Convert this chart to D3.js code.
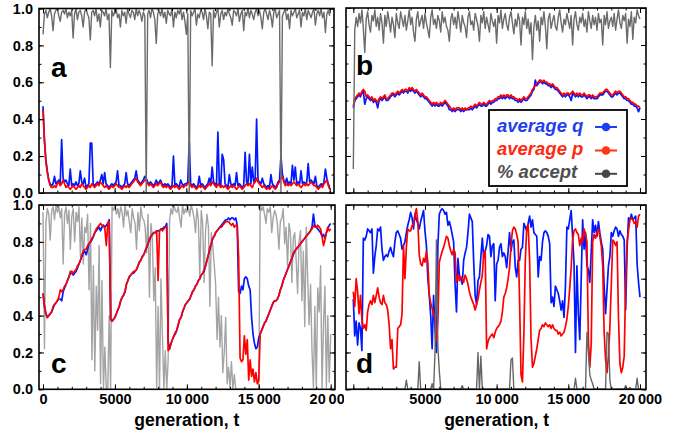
<!DOCTYPE html>
<html><head><meta charset="utf-8">
<script src="https://cdn.jsdelivr.net/npm/d3@7"></script>
<style>body{margin:0;background:#fff}svg{display:block}</style>
</head><body><svg id="chart" width="682" height="436"></svg>
<script>
// generations between samples
const step = 100;
// values are in percent (0..100)
const aQ = [47,29,18,12,7,5,4,5,9,5,
6,7,5,29,8,6,7,5,4,13,
4,5,4,6,4,5,12,6,5,8,
3,4,5,27,27,5,4,5,6,5,
7,10,5,11,5,4,3,4,5,4,
5,6,12,4,4,3,4,5,11,5,
4,5,6,7,8,12,7,6,5,6,
7,9,8,6,5,6,5,4,5,7,
5,6,7,5,4,5,4,5,4,3,
4,20,4,5,4,3,7,5,4,5,
5,6,28,5,4,5,4,3,4,9,
4,5,4,3,4,5,8,5,14,6,
5,4,33,5,4,21,18,5,4,3,
10,5,4,5,4,11,4,5,4,3,
4,22,6,5,21,5,14,6,7,40,
7,6,5,8,5,4,3,4,3,10,
5,4,3,4,6,7,20,10,7,5,
8,5,6,5,15,7,14,5,6,5,
12,5,6,5,6,16,6,7,6,5,
9,4,3,4,5,4,6,13,8,5,
3];
const aP = [45,28,17,11,7,4,3,3,4,3,
5,6,4,5,7,5,3,4,3,2,
3,4,3,2,3,4,3,5,4,3,
2,3,4,3,5,4,3,4,5,4,
6,5,4,3,4,3,2,3,4,3,
4,5,4,3,3,2,3,4,3,4,
3,4,5,6,7,8,6,5,4,5,
6,7,7,5,4,5,4,3,4,5,
4,5,6,4,3,4,3,4,3,2,
3,4,3,4,3,2,3,4,3,4,
4,5,6,4,3,4,3,2,3,4,
3,4,3,2,3,4,5,4,6,5,
4,3,5,4,3,4,3,4,3,2,
3,4,3,4,3,2,3,4,3,2,
3,4,5,4,5,4,3,5,6,8,
6,5,4,3,4,3,2,3,2,3,
4,3,2,3,5,6,8,9,6,4,
5,4,5,4,5,6,5,4,5,4,
3,4,5,4,5,4,5,6,5,4,
4,3,2,3,4,3,5,6,7,4,
2];
const aAccept = [86,97,99,95,98,100,96,88,97,99,
100,96,93,98,99,97,100,95,98,96,
99,84,97,100,94,98,99,96,90,98,
100,97,95,83,98,99,96,100,93,97,
90,99,98,96,100,94,97,68,99,96,
98,100,95,97,90,99,96,98,92,100,
97,95,99,98,94,100,96,99,97,93,
98,96,0,97,99,95,100,98,94,81,
97,99,96,100,95,98,92,99,97,96,
100,90,98,95,99,97,100,94,98,93,
86,97,0,99,96,98,100,91,97,95,
99,98,94,100,96,89,98,97,69,99,
95,98,100,90,97,99,94,98,96,100,
97,95,91,99,98,96,100,93,97,99,
88,98,96,100,95,99,97,94,98,100,
96,99,95,89,98,100,97,94,99,96,
90,98,100,95,97,99,0,96,98,100,
94,97,89,99,96,98,100,95,97,99,
90,98,96,100,94,99,97,95,98,100,
91,97,99,96,100,95,98,87,97,99,
96];
const bQ = [46,50,51,52,53,52,54,55,48,51,
52,51,50,51,49,50,49,46,50,51,
50,51,52,50,50,51,52,53,53,52,
53,54,53,54,55,54,55,55,54,56,
55,56,55,54,55,54,53,52,53,52,
51,51,50,49,48,47,48,47,48,47,
47,48,47,48,49,48,47,45,45,44,
45,44,45,45,45,44,45,44,45,45,
45,45,46,45,46,47,46,47,48,47,
47,48,47,47,48,49,48,49,49,50,
50,51,51,52,51,52,51,52,52,51,
52,51,51,50,50,49,50,49,50,51,
50,50,51,52,53,55,56,61,58,59,
60,60,59,60,59,59,58,58,57,58,
57,56,56,55,54,53,52,53,52,53,
53,52,50,54,53,52,53,52,53,52,
52,53,52,51,52,52,51,52,51,51,
51,52,53,53,53,54,55,55,54,53,
52,52,53,54,53,54,54,53,52,51,
51,50,50,49,48,48,47,47,46,44,
46];
const bP = [47,51,52,53,54,53,55,56,55,52,
53,52,51,52,50,51,50,49,51,52,
51,52,53,51,51,52,53,54,54,53,
54,55,54,55,56,55,56,56,55,57,
56,57,56,55,56,55,54,53,54,53,
52,52,51,50,49,48,49,48,49,48,
48,49,48,49,50,49,48,47,46,45,
46,45,46,46,46,45,46,45,46,45,
46,46,47,46,47,48,47,48,49,48,
48,49,48,48,49,50,49,50,50,51,
51,52,52,53,52,53,52,53,53,52,
53,52,52,51,51,50,51,50,51,52,
51,51,52,53,54,56,57,58,59,60,
61,61,60,61,60,60,59,59,58,59,
58,57,57,56,55,54,53,54,53,54,
54,53,54,55,54,53,54,53,54,53,
53,54,53,52,53,53,52,53,52,52,
52,53,54,54,54,55,56,56,55,54,
53,53,54,55,54,55,55,54,53,52,
52,51,51,50,49,49,48,48,47,47,
46];
const bAccept = [13,88,95,90,97,92,99,89,76,94,
98,91,87,96,93,99,90,95,88,97,
92,81,96,90,98,93,87,95,91,84,
97,92,89,98,94,90,96,88,93,99,
91,95,87,82,94,98,90,93,96,89,
97,92,88,84,95,99,91,94,89,96,
93,87,98,92,95,90,88,82,94,97,
91,95,89,98,93,87,96,92,90,84,
95,98,91,93,88,97,94,90,82,96,
92,98,89,95,91,87,97,93,90,94,
81,96,92,99,89,94,97,91,88,95,
98,92,86,94,90,97,93,80,95,91,
98,89,94,86,92,72,90,96,88,93,
82,95,91,98,90,78,94,97,89,93,
96,90,88,95,99,92,87,94,91,97,
93,89,96,80,94,98,91,88,95,92,
97,90,94,87,98,93,89,96,91,95,
88,97,92,94,80,96,91,98,89,93,
95,90,97,88,94,99,92,89,96,93,
97,81,94,90,98,83,95,92,99,96,
94];
const cQ = [52,45,41,39,40,41,42,44,46,47,
48,49,49,48,53,55,57,59,61,63,
63,62,63,64,66,68,70,72,74,75,
73,76,79,80,81,83,85,86,87,88,
86,88,89,88,89,90,92,38,37,38,
39,41,43,45,48,50,51,53,57,59,
61,62,63,63,64,65,67,69,70,72,
73,75,77,79,81,83,84,85,85,86,
86,86,87,87,88,88,90,26,22,25,
27,29,30,32,35,38,39,42,44,46,
47,48,49,51,53,54,56,57,59,60,
62,63,64,67,70,73,76,79,82,83,
85,86,87,88,89,90,91,92,92,93,
92,93,93,92,93,89,53,52,56,54,
60,61,60,56,54,39,30,25,22,23,
28,30,32,34,36,37,39,41,43,45,
47,48,48,49,51,54,56,59,61,63,
65,67,69,71,73,75,76,77,78,79,
80,81,82,83,84,85,86,88,95,89,
88,87,86,85,83,84,82,85,87,89,
90];
const cP = [52,45,41,39,40,41,42,45,46,47,
48,50,54,53,54,56,57,59,61,64,
64,63,64,65,67,68,70,73,75,76,
76,78,79,80,82,83,85,87,88,89,
90,89,89,87,78,90,91,38,37,38,
39,41,43,45,48,50,51,53,57,59,
61,62,63,64,64,65,67,69,70,72,
73,75,77,79,82,83,84,85,85,86,
59,86,87,86,87,88,88,21,22,25,
27,29,31,32,35,38,39,42,44,46,
47,48,49,51,53,54,56,57,59,60,
62,63,65,67,70,73,77,79,82,83,
85,86,87,88,88,89,90,91,91,91,
90,89,90,88,89,89,72,17,15,16,
29,19,27,5,16,7,11,4,9,3,
5,30,32,34,36,37,39,41,43,45,
47,48,48,49,51,54,56,59,61,63,
65,67,69,71,74,75,76,77,78,79,
80,81,82,83,84,85,86,87,89,88,
88,89,88,87,83,78,81,85,88,86,
87];
const cAccept = [96,22,90,98,95,81,97,99,92,100,
96,99,93,98,68,95,99,90,97,76,
94,98,80,96,91,99,72,93,68,88,
85,95,54,90,16,67,10,56,32,78,
3,59,0,23,0,1,40,0,99,97,
100,95,98,93,99,96,88,100,94,97,
91,85,98,93,90,76,96,86,99,93,
92,88,74,95,50,90,83,48,66,1,
45,0,60,30,0,21,0,16,92,98,
95,100,97,96,99,93,88,100,95,98,
96,99,94,100,97,93,85,98,92,61,
97,90,58,86,95,88,45,85,78,68,
57,27,50,23,40,9,20,39,3,12,
1,15,0,8,0,0,0,0,0,0,
0,0,0,0,0,0,0,0,0,0,
0,100,97,99,95,90,98,96,99,85,
93,97,95,89,76,91,93,98,79,88,
67,90,85,58,82,85,70,52,80,86,
48,75,34,88,60,35,57,21,1,45,
0,55,42,67,0,35,56,1,40,4,
30];
const dQ = [49,29,37,24,36,33,21,82,81,83,
87,86,85,87,63,72,78,87,86,88,
76,70,72,73,72,75,77,74,72,80,
85,86,84,82,76,78,80,85,89,92,
96,93,87,95,92,90,87,91,94,97,
86,78,60,51,40,22,51,33,20,78,
95,97,98,97,95,96,89,91,88,84,
80,57,42,71,62,60,57,70,74,77,
85,95,93,91,69,51,46,59,61,72,
82,71,75,78,84,83,72,78,79,48,
68,70,77,79,72,74,72,66,75,85,
75,80,81,66,61,70,70,76,77,90,
88,86,90,94,88,92,85,84,83,61,
72,70,80,85,86,85,83,79,47,50,
45,56,54,52,48,43,48,39,56,88,
87,92,97,83,68,20,67,41,27,60,
92,76,85,67,65,58,75,92,85,89,
83,91,85,80,76,56,41,54,67,72,
85,83,86,88,87,83,86,84,83,81,
43,76,93,92,95,92,93,94,68,58,
50];
const dP = [53,45,60,53,41,51,38,33,35,32,
42,46,48,46,51,47,51,55,50,47,
46,51,47,46,43,35,22,27,11,12,
12,33,34,35,41,78,60,77,87,86,
86,89,89,95,98,91,73,68,67,71,
69,75,69,51,47,44,40,40,26,37,
69,72,75,77,80,83,82,78,75,73,
76,74,58,62,59,61,60,58,62,60,
57,53,50,48,46,43,46,49,54,58,
62,74,75,22,26,28,29,30,28,31,
33,34,35,37,42,50,52,55,60,66,
78,86,88,87,84,80,48,8,4,30,
70,88,89,70,27,12,14,18,22,27,
32,33,35,34,36,35,34,35,33,35,
33,32,32,30,31,29,30,31,34,38,
45,55,66,81,86,87,85,84,78,82,
80,87,84,80,27,12,25,80,84,82,
85,87,83,78,67,31,16,9,18,34,
57,81,80,78,80,39,14,9,12,18,
57,80,86,92,93,92,90,91,88,94,
95];
const dAccept = [0,0,0,0,0,0,0,0,0,0,
0,0,0,0,0,0,0,0,0,0,
0,0,0,0,0,0,0,0,0,0,
0,0,0,0,0,0,0,5,0,0,
0,0,0,0,0,0,15,0,0,0,
0,0,0,0,0,3,0,20,81,23,
10,0,0,0,0,0,0,0,0,0,
0,0,0,0,0,0,2,0,0,0,
0,0,0,0,0,0,0,20,0,18,
0,0,0,0,0,0,0,0,0,0,
0,0,0,0,0,0,0,0,0,0,
16,17,0,0,0,0,0,0,0,0,
0,0,0,0,0,0,0,0,0,0,
0,0,0,0,0,0,0,0,0,0,
0,0,0,0,0,0,0,0,0,0,
0,0,0,0,0,6,0,0,0,0,
0,0,0,31,20,8,5,3,0,0,
0,0,0,0,0,0,0,31,30,5,
0,0,0,0,0,0,0,0,0,0,
2,0,0,1,0,0,0,0,6,0,
0];

const yTicks = [0, 0.2, 0.4, 0.6, 0.8, 1.0];
const yTickLabels = ["0.0", "0.2", "0.4", "0.6", "0.8", "1.0"];
const xTicks = [0, 5000, 10000, 15000, 20000];
const xTickLabels = ["0", "5000", "10\u2009000", "15\u2009000", "20\u2009000"];
const xMinorTicks = d3.range(0, 20001, 1000);
const yMinorTicks = d3.range(0, 11).map(k => k / 10);
const seriesNames = ["average q", "average p", "% accept"];
const panelLetters = ["a", "b", "c", "d"];
const xTitle = "generation, t";

const FONT = "'Liberation Sans', Arial, Helvetica, sans-serif";
const BLUE = "#0018ff", RED = "#ff0000";
const svg = d3.select("#chart");
const defs = svg.append("defs");

const panels = [
  {letter: panelLetters[0], left: 39, right: 334, top: 8.5, bottom: 193, xDom: [-280, 20300],
   q: aQ, p: aP, acc: aAccept, accColor: "#6b6b6b", accTop: true, yLab: true, xLab: false,
   lx: 51, ly: 77},
  {letter: panelLetters[1], left: 346, right: 646, top: 8, bottom: 193, xDom: [-510, 20420],
   q: bQ, p: bP, acc: bAccept, accColor: "#6b6b6b", accTop: true, yLab: false, xLab: false,
   lx: 356, ly: 75},
  {letter: panelLetters[2], left: 39, right: 335, top: 205, bottom: 389.3, xDom: [-280, 20300],
   q: cQ, p: cP, acc: cAccept, accColor: "#a4a4a4", accTop: false, yLab: true, xLab: true,
   lx: 51, ly: 373, clipLabels: 344},
  {letter: panelLetters[3], left: 346, right: 646, top: 205, bottom: 389.3, xDom: [-510, 20420],
   q: dQ, p: dP, acc: dAccept, accColor: "#666666", accTop: true, yLab: false, xLab: true,
   lx: 356, ly: 373, skipZero: true}
];

function styleAxis(g) {
  g.select(".domain").remove();
  g.selectAll(".tick line").attr("stroke", "#000").attr("stroke-width", 1);
  g.selectAll(".tick text").attr("font-family", FONT).attr("font-weight", "bold")
    .attr("font-size", 14.5).attr("fill", "#000");
}

panels.forEach((cfg, k) => {
  const x = d3.scaleLinear().domain(cfg.xDom).range([cfg.left, cfg.right]);
  const y = d3.scaleLinear().domain([0, 1]).range([cfg.bottom, cfg.top]);
  const g = svg.append("g");
  const clipId = "clip" + k;
  defs.append("clipPath").attr("id", clipId).append("rect")
    .attr("x", cfg.left).attr("y", cfg.top)
    .attr("width", cfg.right - cfg.left).attr("height", cfg.bottom - cfg.top);
  const plot = g.append("g").attr("clip-path", `url(#${clipId})`);
  const line = d3.line().x((d, i) => x(i * step)).y(d => y(d / 100));
  const list = [];
  if (!cfg.accTop) list.push([cfg.acc, cfg.accColor, 1.4]);
  list.push([cfg.q, BLUE, 1.7]);
  list.push([cfg.p, RED, 1.7]);
  if (cfg.accTop) list.push([cfg.acc, cfg.accColor, 1.4]);
  list.forEach(([data, color, w]) => {
    plot.append("path").datum(data).attr("d", line).attr("fill", "none")
      .attr("stroke", color).attr("stroke-width", w).attr("stroke-linejoin", "round");
  });

  // axes (ticks pointing inward)
  const labelHolder = g.append("g");
  if (cfg.clipLabels) {
    defs.append("clipPath").attr("id", "lclip" + k).append("rect")
      .attr("x", 0).attr("y", 0).attr("width", cfg.clipLabels).attr("height", 436);
    labelHolder.attr("clip-path", `url(#lclip${k})`);
  }
  labelHolder.append("g").attr("transform", `translate(0,${cfg.bottom})`)
    .call(d3.axisBottom(x).tickValues(xTicks).tickSize(-5).tickPadding(4.5)
      .tickFormat((d, i) => cfg.xLab && !(cfg.skipZero && i === 0) ? xTickLabels[i] : ""))
    .call(styleAxis);
  g.append("g").attr("transform", `translate(0,${cfg.bottom})`)
    .call(d3.axisBottom(x).tickValues(xMinorTicks).tickSize(-2.5).tickFormat(""))
    .call(styleAxis);
  g.append("g").attr("transform", `translate(0,${cfg.top})`)
    .call(d3.axisTop(x).tickValues(xTicks).tickSize(-5).tickFormat(""))
    .call(styleAxis);
  g.append("g").attr("transform", `translate(0,${cfg.top})`)
    .call(d3.axisTop(x).tickValues(xMinorTicks).tickSize(-2.5).tickFormat(""))
    .call(styleAxis);
  g.append("g").attr("transform", `translate(${cfg.left},0)`)
    .call(d3.axisLeft(y).tickValues(yTicks).tickSize(-5).tickPadding(6)
      .tickFormat((d, i) => cfg.yLab ? yTickLabels[i] : ""))
    .call(styleAxis);
  g.append("g").attr("transform", `translate(${cfg.left},0)`)
    .call(d3.axisLeft(y).tickValues(yMinorTicks).tickSize(-2.5).tickFormat(""))
    .call(styleAxis);
  g.append("g").attr("transform", `translate(${cfg.right},0)`)
    .call(d3.axisRight(y).tickValues(yTicks).tickSize(-5).tickFormat(""))
    .call(styleAxis);
  g.append("g").attr("transform", `translate(${cfg.right},0)`)
    .call(d3.axisRight(y).tickValues(yMinorTicks).tickSize(-2.5).tickFormat(""))
    .call(styleAxis);

  g.append("rect").attr("x", cfg.left).attr("y", cfg.top)
    .attr("width", cfg.right - cfg.left).attr("height", cfg.bottom - cfg.top)
    .attr("fill", "none").attr("stroke", "#000").attr("stroke-width", 1.6);

  g.append("text").attr("x", cfg.lx).attr("y", cfg.ly).text(cfg.letter)
    .attr("font-family", FONT).attr("font-weight", "bold").attr("font-size", 28).attr("fill", "#000");

  if (cfg.xLab) {
    g.append("text").attr("x", x(10000)).attr("y", 426).attr("text-anchor", "middle")
      .attr("font-family", FONT).attr("font-weight", "bold").attr("font-size", 17.5)
      .attr("fill", "#000").text(xTitle);
  }
});

// legend inside panel b
const leg = svg.append("g");
leg.append("rect").attr("x", 489).attr("y", 110).attr("width", 138).attr("height", 76)
  .attr("fill", "#fff").attr("stroke", "#000").attr("stroke-width", 1.8);
const legTextColors = ["#1f3ff2", "#ff2a12", "#4e4e4e"];
const legMarkColors = ["#1e40f5", "#ff3515", "#474747"];
const legBase = [131.5, 155, 178.3];
seriesNames.forEach((name, i) => {
  leg.append("text").attr("x", 497).attr("y", legBase[i]).text(name)
    .attr("font-family", FONT).attr("font-weight", "bold").attr("font-style", "italic")
    .attr("font-size", 18.5).attr("fill", legTextColors[i]);
  const cy = legBase[i] - 4.5;
  leg.append("line").attr("x1", 595).attr("x2", 617).attr("y1", cy).attr("y2", cy)
    .attr("stroke", legMarkColors[i]).attr("stroke-width", 2);
  leg.append("circle").attr("cx", 606).attr("cy", cy).attr("r", 4.3).attr("fill", legMarkColors[i]);
});
</script></body></html>
